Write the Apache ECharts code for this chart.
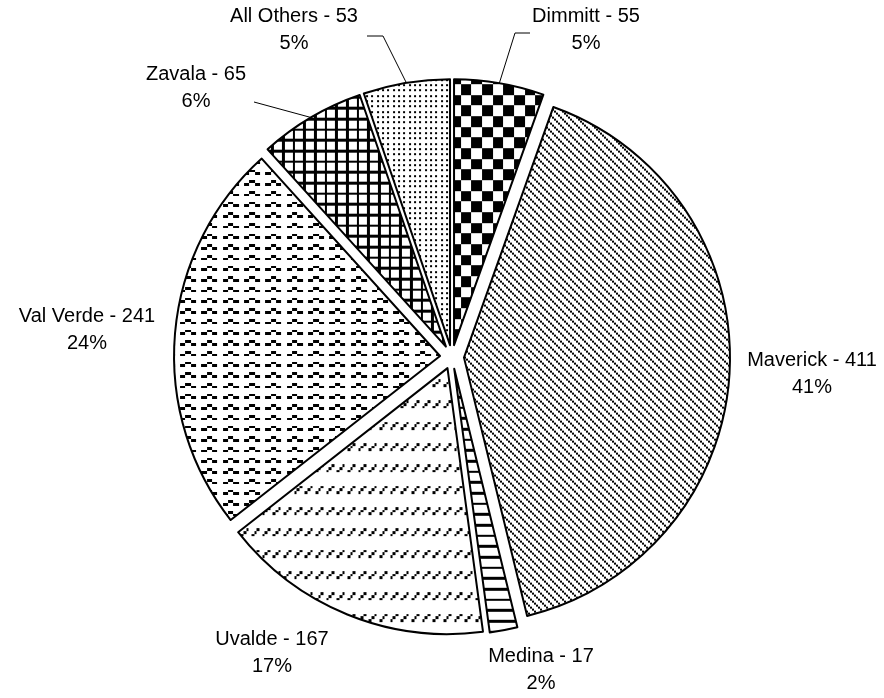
<!DOCTYPE html>
<html>
<head>
<meta charset="utf-8">
<script src="https://cdn.jsdelivr.net/npm/echarts@6/dist/echarts.min.js"></script>
<style>
  html, body { margin: 0; background: #fff; }
  #main { width: 884px; height: 698px; }
</style>
</head>
<body>
<div id="main"></div>
<script>
const counties = ["Dimmitt", "Maverick", "Medina", "Uvalde", "Val Verde", "Zavala", "All Others"];
const counts = [55, 411, 17, 167, 241, 65, 53];

// pie geometry (px)
const cx = 452, cy = 357, radius = 266, explode = 12;

// label block centres and leader line knees, by slice
const labelSpots = [
  { x: 586, y: 30, line: [[515, 33], [530, 33]] },
  { x: 812, y: 374 },
  { x: 541, y: 670 },
  { x: 272, y: 653 },
  { x: 87, y: 330 },
  { x: 196, y: 88, line: [[254, 102]] },
  { x: 294, y: 30, line: [[383, 36], [367, 36]] }
];

// Excel-like fill patterns on a 24x24 "excel pixel" grid, scaled to 64px tiles
const fills = [
  (i, j) => ((i >> 2) + (j >> 2)) % 2 === 0,                     // checkerboard
  null,                                                          // diagonal, drawn natively
  (i, j) => j % 4 === 0,                                         // horizontal lines
  (i, j) => j % 8 >= 2 && j % 8 <= 4 && (i % 4) + (j % 8) === 4, // dashed up diagonal
  (i, j) => (j % 4 === 0 && (i % 8 === 2 || i % 8 === 3)) ||
            (j % 4 === 1 && [0, 1, 4, 5].includes(i % 8)),       // wave
  (i, j) => i % 4 === 0 || j % 4 === 0,                          // small grid
  null                                                           // dots, drawn natively
];

function newTile(size) {
  const c = document.createElement("canvas");
  c.width = size;
  c.height = size;
  const ctx = c.getContext("2d");
  ctx.fillStyle = "#fff";
  ctx.fillRect(0, 0, size, size);
  ctx.fillStyle = "#000";
  return [c, ctx];
}

function makeTile(fn) {
  const size = 64, n = 24, s = size / n;
  const [c, ctx] = newTile(size);
  for (let j = 0; j < n; j++) {
    for (let i = 0; i < n; i++) {
      if (!fn(i, j)) continue;
      const x0 = Math.round(i * s), x1 = Math.round((i + 1) * s);
      const y0 = Math.round(j * s), y1 = Math.round((j + 1) * s);
      ctx.fillRect(x0, y0, x1 - x0, y1 - y0);
    }
  }
  return c;
}

// 2x2 blocks stepping down-right, 8px apart
function diagTile() {
  const [c, ctx] = newTile(8);
  for (let k = 0; k < 4; k++) ctx.fillRect(k * 2, k * 2, 2, 2);
  return c;
}

// small dots on a ~5.3px lattice
function dotTile() {
  const [c, ctx] = newTile(16);
  const pos = [0, 5, 11];
  pos.forEach((y) => pos.forEach((x) => ctx.fillRect(x, y, 2, 2)));
  return c;
}

function tileFor(idx) {
  if (idx === 1) return diagTile();
  if (idx === 6) return dotTile();
  return makeTile(fills[idx]);
}

const total = counts.reduce((a, b) => a + b, 0);

// point on the exploded slice's outer arc at its mid angle
function anchor(idx) {
  let before = 0;
  for (let k = 0; k < idx; k++) before += counts[k];
  const a = ((before + counts[idx] / 2) / total) * Math.PI * 2;
  const d = radius + explode;
  return [cx + d * Math.sin(a), cy - d * Math.cos(a)];
}

const chart = echarts.init(document.getElementById("main"), null, { renderer: "canvas" });

const data = counties.map((name, idx) => {
  const fill = { image: tileFor(idx), repeat: "repeat" };
  const style = { color: fill, borderColor: "#000", borderWidth: 2 };
  return {
    name: name,
    value: counts[idx],
    selected: true,
    itemStyle: style,
    select: { itemStyle: style }
  };
});

// slice labels and leader lines
const labelText = { fontFamily: "Liberation Sans, Arial, sans-serif", fontSize: 20, lineHeight: 27, fill: "#000" };
const graphics = [];
counties.forEach((name, idx) => {
  const spot = labelSpots[idx];
  const pct = Math.round((counts[idx] / total) * 100);
  graphics.push({
    type: "text",
    x: spot.x,
    y: spot.y,
    z: 10,
    style: Object.assign({
      text: name + " - " + counts[idx] + "\n" + pct + "%",
      align: "center",
      verticalAlign: "middle"
    }, labelText)
  });
  if (spot.line) {
    graphics.push({
      type: "polyline",
      z: 10,
      shape: { points: [anchor(idx)].concat(spot.line) },
      style: { stroke: "#000", lineWidth: 1, fill: null }
    });
  }
});

const option = {
  animation: false,
  graphic: graphics,
  series: [
    {
      type: "pie",
      center: [cx, cy],
      radius: radius,
      startAngle: 90,
      clockwise: true,
      selectedMode: "multiple",
      selectedOffset: explode,
      emphasis: { disabled: true },
      label: { show: false },
      labelLine: { show: false },
      data: data
    }
  ]
};

chart.setOption(option, true);
</script>
</body>
</html>
